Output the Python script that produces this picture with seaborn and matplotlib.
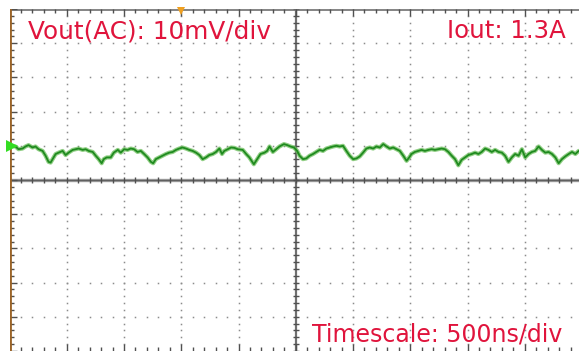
import numpy as np
import pandas as pd
import matplotlib
matplotlib.use("Agg")
import matplotlib.pyplot as plt
import seaborn as sns

# Captured ripple trace: time (ns, relative to screen centre) and AC-coupled Vout (mV)
time_ns = [
    -2500, -2448, -2421, -2386, -2360, -2334, -2299, -2273, -2246, -2211,
    -2185, -2159, -2141, -2115, -2097, -2071, -2036, -2010, -1984, -1948,
    -1922, -1896, -1861, -1835, -1808, -1773, -1747, -1721, -1695, -1677,
    -1651, -1616, -1589, -1554, -1528, -1499, -1469, -1441, -1412, -1382,
    -1353, -1324, -1294, -1265, -1245, -1222, -1193, -1163, -1134, -1105,
    -1075, -1046, -1018, -988, -959, -930, -900, -871, -842, -813,
    -784, -755, -725, -696, -667, -644, -624, -594, -565, -536,
    -507, -463, -433, -405, -366, -337, -308, -273, -250, -229,
    -200, -171, -142, -103, -74, -46, -16, 13, 33, 63,
    92, 121, 151, 180, 208, 238, 267, 296, 326, 355,
    384, 413, 442, 471, 501, 530, 559, 588, 617, 646,
    676, 705, 734, 764, 793, 821, 851, 880, 909, 939,
    968, 991, 1011, 1040, 1070, 1099, 1128, 1158, 1187, 1215,
    1245, 1274, 1303, 1333, 1362, 1391, 1420, 1449, 1478, 1508,
    1537, 1566, 1595, 1624, 1654, 1683, 1712, 1741, 1771, 1800,
    1828, 1858, 1887, 1916, 1946, 1975, 2004, 2033, 2062, 2091,
    2121, 2150, 2179, 2208, 2238, 2267, 2296, 2325, 2354, 2384,
    2413, 2442, 2471, 2500,
]
vout_mv = [
    10.0, 9.8, 9.0, 9.2, 9.8, 10.2, 9.5, 9.8, 9.0, 8.5,
    7.1, 5.3, 5.1, 6.6, 7.6, 8.0, 8.5, 7.3, 8.0, 8.8,
    9.0, 9.2, 8.8, 9.0, 8.5, 8.2, 7.1, 6.1, 4.9, 6.1,
    6.6, 6.6, 8.0, 8.8, 8.0, 9.0, 8.8, 9.2, 9.0, 8.2,
    8.5, 7.6, 6.6, 5.3, 4.9, 6.1, 6.6, 7.1, 7.6, 8.0,
    8.2, 8.8, 9.2, 9.5, 9.2, 8.8, 8.5, 8.0, 7.3, 6.1,
    6.6, 7.3, 7.6, 8.2, 9.2, 7.6, 8.5, 9.0, 9.5, 9.4,
    9.0, 8.8, 7.6, 6.6, 4.6, 6.1, 7.6, 8.0, 8.5, 9.8,
    8.2, 9.0, 9.8, 10.5, 10.2, 9.8, 9.5, 8.5, 7.1, 6.1,
    6.3, 7.1, 7.6, 8.2, 8.8, 8.5, 9.2, 9.5, 9.8, 10.0,
    9.8, 10.0, 8.5, 7.1, 6.1, 6.3, 6.9, 8.0, 9.2, 9.5,
    9.2, 9.8, 9.5, 10.5, 9.8, 9.2, 9.5, 9.0, 8.5, 7.1,
    5.6, 6.6, 7.6, 8.2, 8.5, 8.8, 8.5, 8.8, 9.0, 8.8,
    9.0, 9.2, 9.0, 8.2, 7.1, 6.1, 4.3, 5.9, 6.6, 7.3,
    7.6, 8.0, 7.6, 8.2, 9.2, 8.8, 8.2, 8.8, 8.2, 8.0,
    7.1, 5.3, 6.6, 7.6, 7.1, 9.0, 6.6, 7.6, 8.2, 8.5,
    9.8, 8.8, 8.0, 8.2, 7.6, 6.6, 4.9, 6.1, 6.9, 7.6,
    8.2, 7.6, 8.5, 8.2,
]

# Screen labels
vout_label = "Vout(AC): 10mV/div"
iout_label = "Iout: 1.3A"
time_label = "Timescale: 500ns/div"

# Scope settings: 10 x 10 divisions, 5 minor steps per division
NS_PER_DIV = 500
MV_PER_DIV = 10
HALF_DIVS = 5
MINOR = 5
TRIGGER_NS = -1000
CH1_LEVEL_MV = 10.0

W, H = 579, 351
DPI = 100

sns.set_theme(style="white")
plt.rcParams["font.family"] = ["DejaVu Sans"]

fig = plt.figure(figsize=(W / DPI, H / DPI), dpi=DPI)
ax_left, ax_right, ax_top, ax_bot = 9.5, 582.0, 9.0, 351.0
ax = fig.add_axes([ax_left / W, 1 - ax_bot / H,
                   (ax_right - ax_left) / W, (ax_bot - ax_top) / H])
ax.set_facecolor("white")
fig.patch.set_facecolor("white")

xmax = HALF_DIVS * NS_PER_DIV
ymax = HALF_DIVS * MV_PER_DIV

# pixel -> data unit conversion
px_x = 2 * xmax / (ax_right - ax_left)
px_y = 2 * ymax / (ax_bot - ax_top)

minor_x = np.arange(-xmax, xmax + 1e-9, NS_PER_DIV / MINOR)
minor_y = np.arange(-ymax, ymax + 1e-9, MV_PER_DIV / MINOR)
major_x = np.arange(-xmax, xmax + 1e-9, NS_PER_DIV)
major_y = np.arange(-ymax, ymax + 1e-9, MV_PER_DIV)
rx = np.mod(minor_x + xmax, NS_PER_DIV)
ry = np.mod(minor_y + ymax, MV_PER_DIV)
is_major_x = np.isclose(rx, 0) | np.isclose(rx, NS_PER_DIV)
is_major_y = np.isclose(ry, 0) | np.isclose(ry, MV_PER_DIV)

dot_kw = dict(ls="none", marker="s", ms=1.1, mew=0, color="#8c8c8c", zorder=1)
# dotted graticule along major horizontal lines
for yv in major_y:
    if abs(yv) < 1e-9 or abs(abs(yv) - ymax) < 1e-9:
        continue
    ax.plot(minor_x, np.full_like(minor_x, yv), **dot_kw)
# dotted graticule along major vertical lines
for xv in major_x:
    if abs(xv) < 1e-9 or abs(abs(xv) - xmax) < 1e-9:
        continue
    ax.plot(np.full_like(minor_y, xv), minor_y, **dot_kw)

tick_col = "#505050"
# centre cross-hair
ax.axhline(0, color="#9a9a9a", lw=2.4, zorder=2)
ax.axhline(0, color="#606060", lw=0.8, zorder=2)
ax.axvline(0, color="#707070", lw=1.6, zorder=2)
ax.vlines(minor_x, -3 * px_y, 3 * px_y, color=tick_col, lw=1.0, zorder=2)
ax.hlines(minor_y, -3 * px_x, 3 * px_x, color=tick_col, lw=1.0, zorder=2)

# top edge with downward ticks
ax.axhline(ymax - 0.5 * px_y, color="#707070", lw=1.2, zorder=2)
tick_len_x = np.where(is_major_x, 7, 3.5) * px_y
ax.vlines(minor_x, ymax - tick_len_x, ymax, color=tick_col, lw=1.0, zorder=2)
# bottom edge with upward ticks
ax.vlines(minor_x, -ymax, -ymax + np.where(is_major_x, 7, 4) * px_y,
          color=tick_col, lw=1.0, zorder=2)
# left edge with rightward ticks
tick_len_y = np.where(is_major_y, 7, 4) * px_x
ax.hlines(minor_y, -xmax, -xmax + tick_len_y, color=tick_col, lw=1.0, zorder=2)
ax.axvline(-xmax + 0.5 * px_x, color="#9b6428", lw=2.0, zorder=3)

# ripple trace
trace = pd.DataFrame({"time_ns": time_ns, "vout_mv": vout_mv})
sns.lineplot(data=trace, x="time_ns", y="vout_mv", ax=ax, color="#6cbf5c",
             lw=3.0, alpha=0.75, zorder=4, legend=False)
sns.lineplot(data=trace, x="time_ns", y="vout_mv", ax=ax, color="#1f8a1f",
             lw=1.3, zorder=5, legend=False)
ax.set_xlim(-xmax, xmax)
ax.set_ylim(-ymax, ymax)
ax.axis("off")

# trigger position marker and channel level marker
ax.plot([TRIGGER_NS], [ymax - 2 * px_y], marker="v", ms=6, color="#f0a020",
        mew=0, clip_on=False, zorder=6)
ax.plot([-xmax + 2.5 * px_x], [CH1_LEVEL_MV], marker=">", ms=8, color="#33dd22",
        mew=0, clip_on=False, zorder=6)

txt_kw = dict(color="#e0143c", va="baseline")
fig.text(28 / W, 1 - 38 / H, vout_label, ha="left", fontsize=17.8, **txt_kw)
fig.text(566 / W, 1 - 38 / H, iout_label, ha="right", fontsize=17.6, **txt_kw)
fig.text(312 / W, 1 - 341 / H, time_label, ha="left", fontsize=17.0, **txt_kw)

fig.savefig("out.png", dpi=DPI, facecolor="white")
